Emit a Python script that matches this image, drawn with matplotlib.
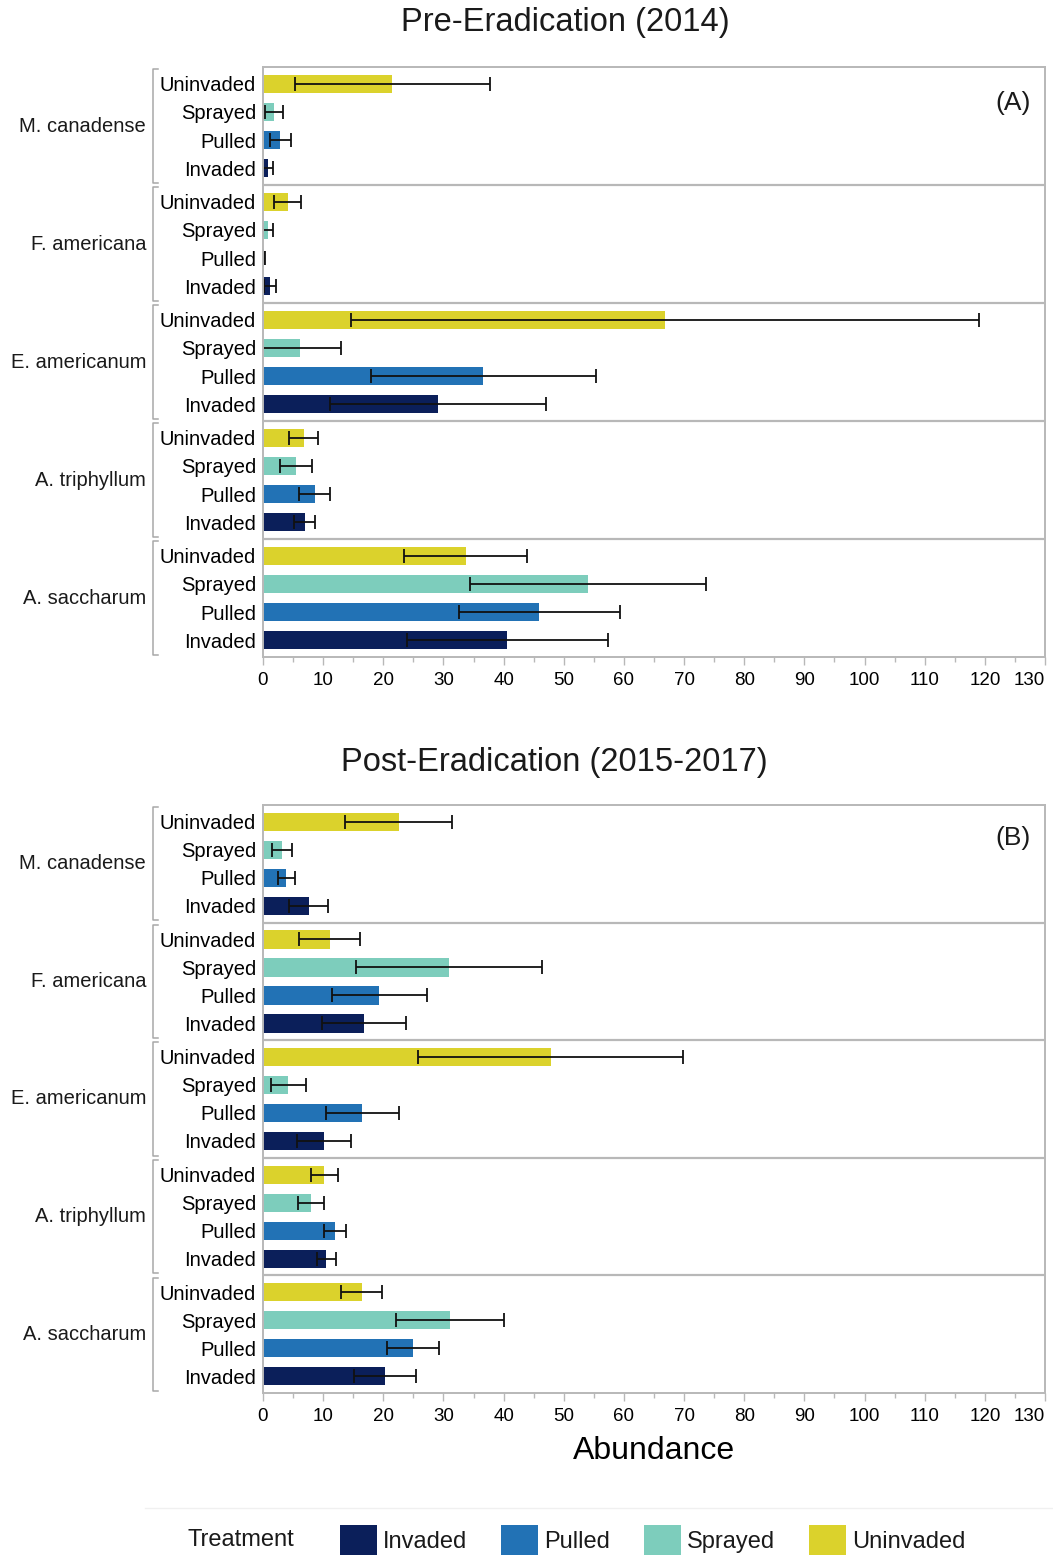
import numpy as np
import matplotlib
matplotlib.use('Agg')
import matplotlib.pyplot as plt
from matplotlib.patches import Patch
from matplotlib.lines import Line2D
from matplotlib.ticker import MultipleLocator
from matplotlib.transforms import blended_transform_factory

matplotlib.rcParams['font.family'] = 'sans-serif'
matplotlib.rcParams['font.sans-serif'] = ['Liberation Sans', 'DejaVu Sans']
matplotlib.rcParams['text.color'] = '#1a1a1a'

species = ['M. canadense', 'F. americana', 'E. americanum', 'A. triphyllum', 'A. saccharum']
treatments = ['Uninvaded', 'Sprayed', 'Pulled', 'Invaded']
legend_order = ['Invaded', 'Pulled', 'Sprayed', 'Uninvaded']
colors = {'Invaded': '#0b1f5a', 'Pulled': '#2272b5', 'Sprayed': '#7dcdbc', 'Uninvaded': '#dbd22c'}

# mean abundance per species (rows) and treatment (cols: Uninvaded, Sprayed, Pulled, Invaded)
pre_mean = [
    [21.5, 1.8, 2.9, 0.8],
    [4.1, 0.8, 0.2, 1.2],
    [66.8, 6.2, 36.6, 29.1],
    [6.8, 5.5, 8.6, 6.9],
    [33.7, 54.0, 45.9, 40.6],
]
pre_err = [
    [16.2, 1.5, 1.8, 0.8],
    [2.3, 0.8, 0.05, 1.0],
    [52.2, 6.7, 18.7, 17.9],
    [2.4, 2.6, 2.6, 1.8],
    [10.2, 19.6, 13.4, 16.7],
]
post_mean = [
    [22.6, 3.2, 3.9, 7.6],
    [11.1, 30.9, 19.3, 16.8],
    [47.8, 4.2, 16.5, 10.2],
    [10.2, 8.0, 12.0, 10.5],
    [16.4, 31.1, 24.9, 20.3],
]
post_err = [
    [8.9, 1.7, 1.4, 3.2],
    [5.1, 15.5, 7.9, 7.0],
    [22.1, 2.9, 6.1, 4.5],
    [2.2, 2.2, 1.8, 1.6],
    [3.4, 9.0, 4.3, 5.2],
]

GROUP = 4.2   # height of one species block in row units
PAD = 0.6
FRAME = '#b8b8b8'
W, H = 1053, 1564

error_kw = {'ecolor': '#111111', 'elinewidth': 1.3, 'capsize': 5, 'capthick': 1.3}


def draw_panel(ax, means, errs, tag, tag_y):
    trans = blended_transform_factory(ax.transAxes, ax.transData)
    yticks, ylabels = [], []
    for g, name in enumerate(species):
        top = g * GROUP
        ys = top + PAD + np.arange(len(treatments))
        for i, t in enumerate(treatments):
            ax.barh(ys[i], means[g][i], height=0.65, color=colors[t],
                    xerr=errs[g][i], error_kw=error_kw, zorder=2)
        yticks.extend(ys)
        ylabels.extend(treatments)
        if g > 0:
            ax.axhline(top, color=FRAME, lw=1.6, zorder=1)
        ax.text(-0.1496, top + GROUP / 2, name, transform=trans,
                ha='right', va='center', fontsize=14.5)
        # bracket grouping the treatment labels
        b0, b1 = top + 0.08, top + GROUP - 0.08
        ax.plot([-0.1343, -0.1407, -0.1407, -0.1343], [b0, b0, b1, b1],
                transform=trans, clip_on=False, color='#a8a8a8', lw=1.1)

    ax.set_yticks(yticks)
    ax.set_yticklabels(ylabels, fontsize=14.5)
    ax.tick_params(axis='y', length=0, pad=5)
    ax.set_ylim(len(species) * GROUP, 0)

    ax.set_xlim(0, 130)
    ax.xaxis.set_major_locator(MultipleLocator(10))
    ax.xaxis.set_minor_locator(MultipleLocator(5))
    ax.tick_params(axis='x', which='major', direction='out', length=6, width=1,
                   color=FRAME, labelsize=13.5, pad=5)
    ax.tick_params(axis='x', which='minor', direction='out', length=3.5, width=1,
                   color=FRAME)
    for s in ax.spines.values():
        s.set_color(FRAME)
        s.set_linewidth(1.4)

    ax.text(0.982, tag_y, tag, transform=ax.transAxes, ha='right', va='center',
            fontsize=19)


fig = plt.figure(figsize=(W / 100, H / 100), dpi=100)

ax_a = fig.add_axes([263 / W, 1 - 657 / H, 782 / W, 590 / H])
ax_b = fig.add_axes([263 / W, 1 - 1393 / H, 782 / W, 588 / H])

draw_panel(ax_a, pre_mean, pre_err, '(A)', 0.939)
draw_panel(ax_b, post_mean, post_err, '(B)', 0.944)

fig.text(565 / W, 1 - 22 / H, 'Pre-Eradication (2014)', ha='center', va='center', fontsize=23.5)
fig.text(554 / W, 1 - 762 / H, 'Post-Eradication (2015-2017)', ha='center', va='center', fontsize=23.5)

ax_b.set_xlabel('Abundance', fontsize=23, labelpad=8)

# keep the "130" tick label inside the figure edge
fig.canvas.draw()
for ax in (ax_a, ax_b):
    for lab in ax.get_xticklabels():
        if lab.get_text() == '130':
            lab.set_horizontalalignment('right')
            lab.set_x(131)

# legend strip along the bottom
fig.add_artist(Line2D([145 / W, 1.0], [1 - 1508 / H] * 2, color='#f0f0f0', lw=1))
fig.text(187 / W, 1 - 1540 / H, 'Treatment', ha='left', va='center', fontsize=17)
handles = [Patch(facecolor=colors[t], edgecolor='none') for t in legend_order]
fig.legend(handles, legend_order, loc='center left',
           bbox_to_anchor=(340 / W, 1 - 1540 / H), ncol=4, frameon=False,
           fontsize=17, handlelength=1.57, handleheight=1.58, handletextpad=0.25,
           columnspacing=1.44, borderpad=0, borderaxespad=0)

fig.savefig('out.png', dpi=100)
